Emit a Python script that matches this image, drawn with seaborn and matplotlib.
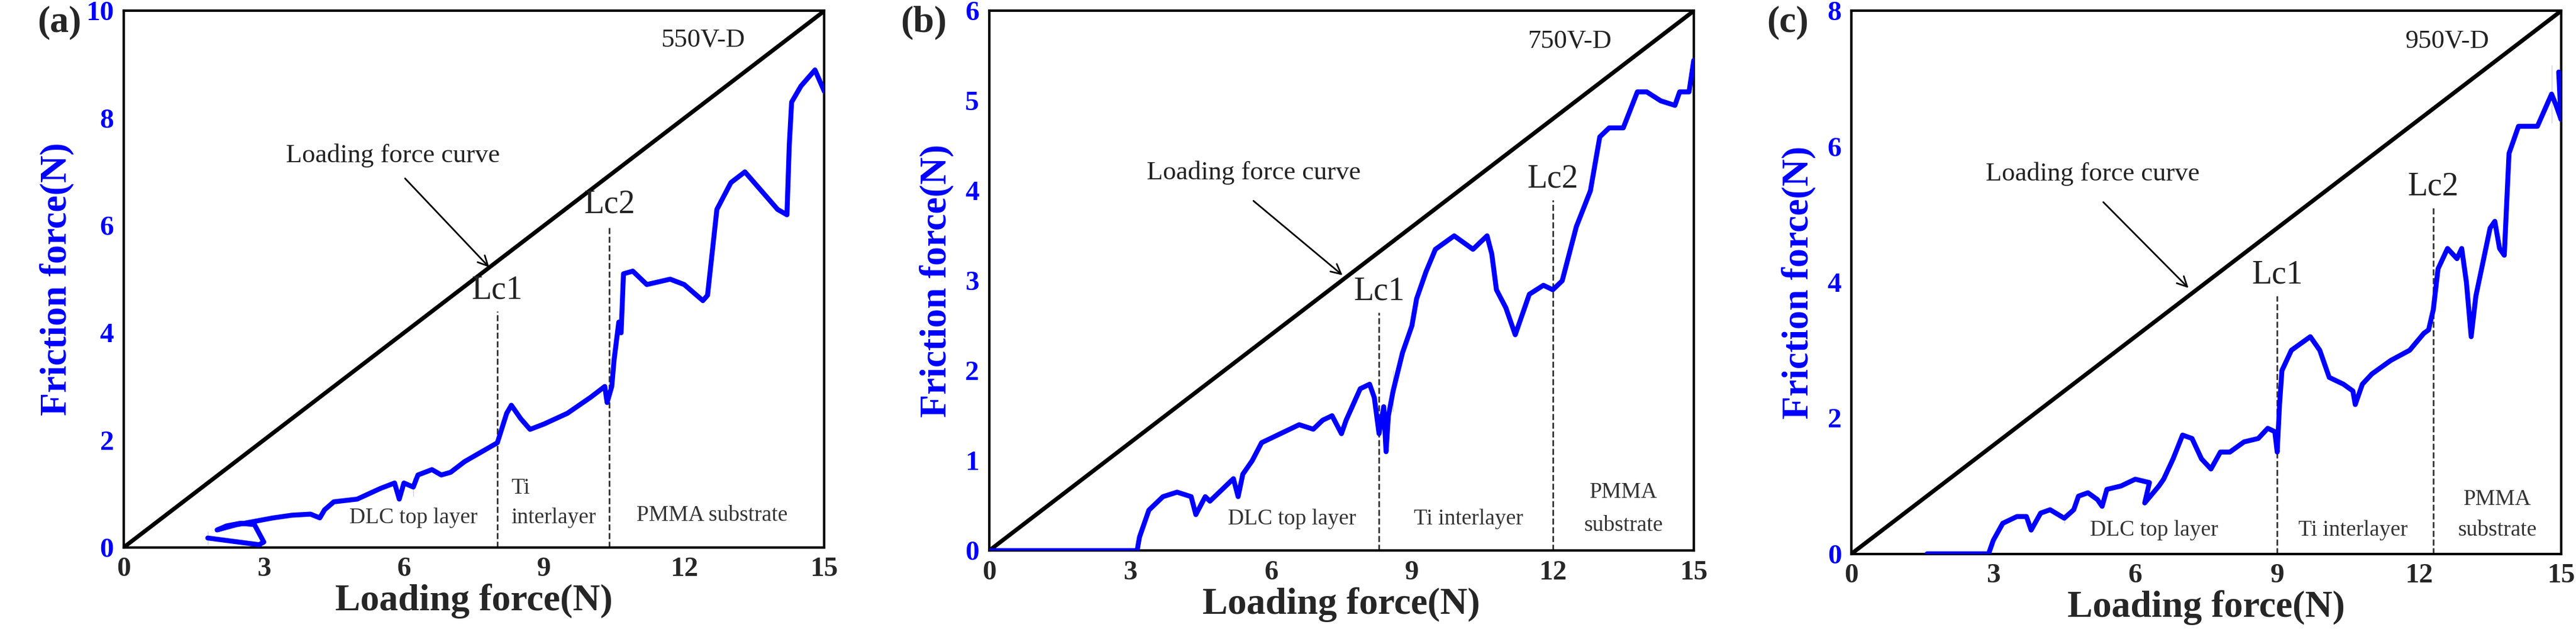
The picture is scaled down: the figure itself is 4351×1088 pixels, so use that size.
import matplotlib
matplotlib.use('Agg')
import matplotlib.pyplot as plt
import seaborn as sns
import pandas as pd
from matplotlib.ticker import MultipleLocator

sns.set_theme(style='white')
plt.rcParams['font.family'] = ['Liberation Serif', 'DejaVu Serif']

# panel (a) 550V-D
a_x = [1.8, 2.9, 3.0, 2.8, 2.5, 2.2, 2.0, 1.8, 2.0, 2.4, 2.8, 3.2, 3.6, 4.0, 4.2, 4.3, 4.5, 5.0, 5.5, 5.8,
       5.9, 6.0, 6.2, 6.2, 6.3, 6.6, 6.8, 7.0, 7.3, 7.7, 8.0, 8.2, 8.3, 8.5, 8.7, 9.0, 9.5, 10.0, 10.3,
       10.35, 10.45, 10.5, 10.6, 10.65, 10.7, 10.9, 11.2, 11.7, 12.0, 12.4, 12.5, 12.6, 12.7, 13.0, 13.3,
       13.5, 14.0, 14.2, 14.25, 14.3, 14.5, 14.8, 15.0]
a_y = [0.05, 0.05, 0.1, 0.4, 0.45, 0.4, 0.3, 0.3, 0.35, 0.42, 0.45, 0.55, 0.6, 0.62, 0.55, 0.7, 0.85, 0.9,
       1.1, 1.2, 0.9, 1.2, 1.3, 0.95, 1.35, 1.45, 1.35, 1.4, 1.6, 1.8, 1.95, 2.5, 2.65, 2.4, 2.2, 2.3, 2.5,
       2.8, 3.0, 2.7, 3.0, 3.5, 4.2, 4.0, 5.1, 5.15, 4.9, 5.0, 4.9, 4.6, 4.7, 5.5, 6.3, 6.8, 7.0, 6.8, 6.3,
       6.2, 7.5, 8.3, 8.6, 8.9, 8.5]

# panel (b) 750V-D
b_x = [0.0, 3.15, 3.2, 3.4, 3.7, 4.0, 4.3, 4.4, 4.6, 4.7, 5.0, 5.2, 5.3, 5.4, 5.6, 5.8, 6.2, 6.6, 6.9, 7.1,
       7.3, 7.5, 7.6, 7.9, 8.1, 8.2, 8.3, 8.4, 8.45, 8.5, 8.6, 8.6, 8.8, 9.0, 9.1, 9.3, 9.5, 9.9, 10.3,
       10.6, 10.7, 10.8, 11.0, 11.2, 11.5, 11.8, 12.0, 12.2, 12.5, 12.8, 13.0, 13.2, 13.5, 13.8, 14.0,
       14.3, 14.6, 14.7, 14.9, 15.0]
b_y = [0.0, 0.0, 0.15, 0.45, 0.6, 0.65, 0.6, 0.4, 0.6, 0.55, 0.7, 0.8, 0.6, 0.85, 1.0, 1.2, 1.3, 1.4, 1.35,
       1.45, 1.5, 1.3, 1.45, 1.8, 1.85, 1.7, 1.3, 1.6, 1.1, 1.5, 1.55, 2.0, 2.2, 2.5, 2.8, 3.1, 3.35, 3.5,
       3.35, 3.5, 3.3, 2.9, 2.7, 2.4, 2.85, 2.95, 2.9, 3.0, 3.6, 4.0, 4.6, 4.7, 4.7, 5.1, 5.1, 5.0, 4.95,
       5.1, 5.1, 5.45]

# panel (c) 950V-D
c_x = [1.6, 2.9, 3.0, 3.2, 3.5, 3.7, 3.8, 4.0, 4.2, 4.5, 4.5, 4.7, 4.8, 5.0, 5.2, 5.3, 5.4, 5.7, 6.0, 6.3,
       6.2, 6.5, 6.6, 6.8, 7.0, 7.2, 7.4, 7.6, 7.8, 8.0, 8.3, 8.6, 8.8, 8.95, 9.0, 9.05, 9.1, 9.3, 9.7,
       9.9, 10.1, 10.4, 10.6, 10.65, 10.8, 11.0, 11.4, 11.8, 12.1, 12.2, 12.3, 12.4, 12.6, 12.8, 12.9,
       13.0, 13.1, 13.2, 13.5, 13.6, 13.7, 13.8, 13.9, 14.1, 14.5, 14.8, 14.8, 14.9, 15.0, 14.95]
c_y = [0.0, 0.0, 0.2, 0.45, 0.55, 0.55, 0.35, 0.6, 0.65, 0.6, 0.45, 0.65, 0.85, 0.9, 0.8, 0.7, 0.95, 1.0,
       1.1, 1.05, 0.75, 1.0, 1.1, 1.4, 1.75, 1.7, 1.4, 1.25, 1.5, 1.5, 1.65, 1.7, 1.85, 1.8, 1.5, 2.2, 2.7,
       3.0, 3.2, 3.0, 2.6, 2.5, 2.4, 2.2, 2.5, 2.65, 2.85, 3.0, 3.25, 3.3, 3.6, 4.2, 4.5, 4.35, 4.5, 4.0,
       3.2, 3.8, 4.8, 4.9, 4.5, 4.4, 5.9, 6.3, 6.3, 6.35, 7.2, 6.6, 6.4, 7.1]

panels = [
    dict(tag='(a)', name='550V-D', x=a_x, y=a_y, ymax=10, ystep=2, lc1=(8.0, 4.4), lc2=(10.4, 6.0),
         name_xy=(12.4, 9.45), curve_xy=(5.76, 7.3), arrow=((6.0, 6.9), (7.85, 5.2)),
         layers=[('DLC top layer', 6.2, 0.55), ('Ti', 8.5, 1.1), ('interlayer', 9.2, 0.55),
                 ('PMMA substrate', 12.6, 0.6)],
         pos=[0.048, 0.15, 0.272, 0.833]),
    dict(tag='(b)', name='750V-D', x=b_x, y=b_y, ymax=6, ystep=1, lc1=(8.3, 2.65), lc2=(12.0, 3.9),
         name_xy=(12.35, 5.66), curve_xy=(5.63, 4.2), arrow=((5.6, 3.9), (7.55, 3.05)),
         layers=[('DLC top layer', 6.45, 0.35), ('Ti interlayer', 10.2, 0.35), ('PMMA', 13.5, 0.65),
                 ('substrate', 13.5, 0.28)],
         pos=[0.384, 0.145, 0.2735, 0.838]),
    dict(tag='(c)', name='950V-D', x=c_x, y=c_y, ymax=8, ystep=2, lc1=(9.0, 3.8), lc2=(12.3, 5.1),
         name_xy=(12.6, 7.55), curve_xy=(5.1, 5.6), arrow=((5.3, 5.2), (7.15, 3.9)),
         layers=[('DLC top layer', 6.4, 0.35), ('Ti interlayer', 10.6, 0.35), ('PMMA', 13.65, 0.8),
                 ('substrate', 13.65, 0.35)],
         pos=[0.7187, 0.14, 0.2755, 0.843]),
]

fig = plt.figure(figsize=(43.51, 10.88), dpi=100)
blue = '#0000ff'

for p in panels:
    ax = fig.add_axes(p['pos'])
    df = pd.DataFrame({'load': p['x'], 'friction': p['y']})
    sns.lineplot(data=df, x='load', y='friction', sort=False, color=blue, lw=6, ax=ax, zorder=3)
    diag = pd.DataFrame({'load': [0, 15], 'friction': [0, p['ymax']]})
    sns.lineplot(data=diag, x='load', y='friction', sort=False, color='black', lw=5, ax=ax, zorder=2)
    ax.set_xlim(0, 15)
    ax.set_ylim(0, p['ymax'])
    ax.xaxis.set_major_locator(MultipleLocator(3))
    ax.xaxis.set_minor_locator(MultipleLocator(1.5))
    ax.yaxis.set_major_locator(MultipleLocator(p['ystep']))
    ax.yaxis.set_minor_locator(MultipleLocator(p['ystep'] / 2))
    ax.tick_params(which='both', direction='in', width=2.5, top=False, right=False)
    ax.tick_params(which='major', length=12, labelsize=34, pad=12)
    ax.tick_params(which='minor', length=7)
    ax.tick_params(axis='y', labelcolor=blue)
    for lab in ax.get_xticklabels() + ax.get_yticklabels():
        lab.set_fontweight('bold')
    for s in ax.spines.values():
        s.set_linewidth(3)
        s.set_color('black')
    ax.set_xlabel('Loading force(N)', fontsize=46, fontweight='bold', labelpad=2)
    ax.set_ylabel('Friction force(N)', fontsize=46, fontweight='bold', color=blue, labelpad=14)
    for key, lab in (('lc1', 'Lc1'), ('lc2', 'Lc2')):
        lx, ly = p[key]
        ax.plot([lx, lx], [0, ly], ls='--', color='#333333', lw=2)
        ax.text(lx, ly + p['ymax'] * 0.01, lab, fontsize=40, ha='center', va='bottom', color='#222222')
    ax.text(*p['name_xy'], p['name'], fontsize=32, ha='center', va='center', color='#222222')
    ax.text(*p['curve_xy'], 'Loading force curve', fontsize=32, ha='center', va='center', color='#222222')
    ax.annotate('', xy=p['arrow'][1], xytext=p['arrow'][0],
                arrowprops=dict(arrowstyle='->', color='black', lw=2, mutation_scale=30))
    for txt, tx, ty in p['layers']:
        ax.text(tx, ty, txt, fontsize=27, ha='center', va='center', color='#333333')
    ax.text(-0.06, 1.01, p['tag'], transform=ax.transAxes, fontsize=46, fontweight='bold',
            ha='right', va='top')

fig.savefig('out.png', dpi=100)
